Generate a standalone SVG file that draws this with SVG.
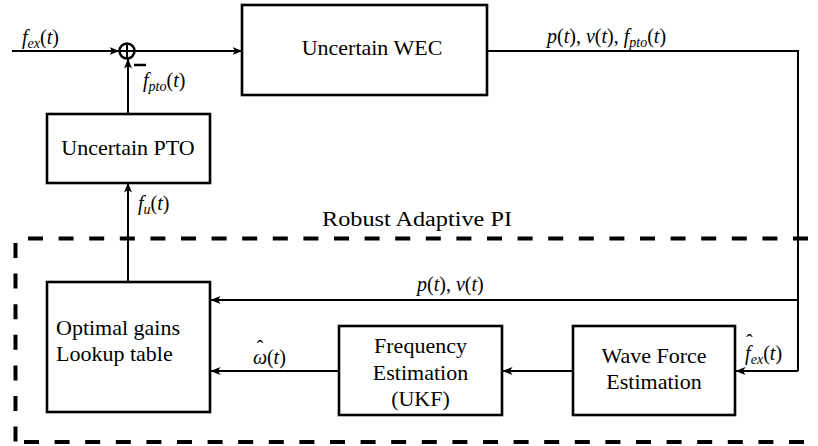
<svg xmlns="http://www.w3.org/2000/svg" width="818" height="446" viewBox="0 0 818 446">
<style>
.box{fill:#fff;stroke:#000;stroke-width:2.6}
.ln{fill:none;stroke:#000;stroke-width:2}
.arr{marker-end:url(#ah)}
.dash{fill:none;stroke:#000;stroke-width:4;stroke-dasharray:15 15.6}
.t{font-size:22px;fill:#000}
.m{font-size:20px;fill:#000}
.i{font-style:italic}
.s{font-style:italic;font-size:14px}
</style>
<defs>
<marker id="ah" viewBox="0 0 10 8" refX="9.5" refY="4" markerWidth="10" markerHeight="8" markerUnits="userSpaceOnUse" orient="auto">
<path d="M0,0 L10,4 L0,8 L2.5,4 z" fill="#000"/>
</marker>
</defs>

<g id="connectors">
<line class="ln arr" x1="12" y1="51" x2="119" y2="51"/>
<line class="ln arr" x1="135" y1="51" x2="242" y2="51"/>
<line class="ln arr" x1="128" y1="114" x2="128" y2="59"/>
<line class="ln arr" x1="128" y1="282" x2="128" y2="183"/>
<polyline class="ln" points="487,51 798,51 798,371"/>
<line class="ln arr" x1="798" y1="300" x2="211" y2="300"/>
<line class="ln arr" x1="798" y1="371" x2="736" y2="371"/>
<line class="ln arr" x1="573" y1="371" x2="503" y2="371"/>
<line class="ln arr" x1="339" y1="371" x2="211" y2="371"/>
<line x1="134" y1="65" x2="146" y2="65" stroke="#000" stroke-width="2.5"/>
</g>

<g id="sum">
<circle cx="127" cy="51" r="7.5" fill="none" stroke="#000" stroke-width="2.5"/>
<line x1="119.5" y1="51" x2="134.5" y2="51" stroke="#000" stroke-width="2"/>
<line x1="127" y1="43.5" x2="127" y2="58.5" stroke="#000" stroke-width="2"/>
</g>

<g font-family="Liberation Serif, Times New Roman, Tinos, DejaVu Serif, serif">
<g id="wec">
<rect class="box" x="242" y="5" width="245" height="90"/>
<text class="t" x="372" y="55" text-anchor="middle">Uncertain WEC</text>
</g>

<g id="pto">
<rect class="box" x="47" y="114" width="163" height="69"/>
<text class="t" x="128" y="155" text-anchor="middle">Uncertain PTO</text>
</g>

<g id="lookup">
<rect class="box" x="47" y="282" width="163" height="130"/>
<text class="t" x="56" y="335">Optimal gains</text>
<text class="t" x="56" y="361">Lookup table</text>
</g>

<g id="freq">
<rect class="box" x="339" y="326" width="163" height="89"/>
<text class="t" x="420.5" y="353" text-anchor="middle">Frequency</text>
<text class="t" x="420.5" y="380" text-anchor="middle">Estimation</text>
<text class="t" x="420.5" y="406" text-anchor="middle">(UKF)</text>
</g>

<g id="wave">
<rect class="box" x="573" y="326" width="162" height="89"/>
<text class="t" x="654" y="363" text-anchor="middle">Wave Force</text>
<text class="t" x="654" y="389" text-anchor="middle">Estimation</text>
</g>

<g id="robust">
<polyline class="dash" points="28,238.5 812,238.5"/>
<polyline class="dash" points="15.5,243 15.5,442"/>
<polyline class="dash" points="24,442 812,442"/>
<text class="m" x="322" y="226" textLength="190" lengthAdjust="spacingAndGlyphs">Robust Adaptive PI</text>
</g>

<g id="labels">
<text class="m" x="22" y="44"><tspan class="i">f</tspan><tspan class="s" dy="4">ex</tspan><tspan dy="-4">(</tspan><tspan class="i">t</tspan>)</text>
<text class="m" x="143" y="87"><tspan class="i">f</tspan><tspan class="s" dy="4">pto</tspan><tspan dy="-4">(</tspan><tspan class="i">t</tspan>)</text>
<text class="m" x="547" y="43"><tspan class="i">p</tspan>(<tspan class="i">t</tspan>), <tspan class="i">v</tspan>(<tspan class="i">t</tspan>), <tspan class="i">f</tspan><tspan class="s" dy="4">pto</tspan><tspan dy="-4">(</tspan><tspan class="i">t</tspan>)</text>
<text class="m" x="138" y="210"><tspan class="i">f</tspan><tspan class="s" dy="4">u</tspan><tspan dy="-4">(</tspan><tspan class="i">t</tspan>)</text>
<text class="m" x="417" y="291"><tspan class="i">p</tspan>(<tspan class="i">t</tspan>), <tspan class="i">v</tspan>(<tspan class="i">t</tspan>)</text>
<text class="m" x="253" y="364"><tspan class="i">ω</tspan><tspan dx="-10.5" dy="-9">ˆ</tspan><tspan dx="3.6" dy="9">(</tspan><tspan class="i">t</tspan>)</text>
<text class="m" x="745" y="360"><tspan class="i">f</tspan><tspan dx="-4.5" dy="-11">ˆ</tspan><tspan class="s" dx="-2" dy="15">ex</tspan><tspan dy="-4">(</tspan><tspan class="i">t</tspan>)</text>
</g>
</g>
</svg>
